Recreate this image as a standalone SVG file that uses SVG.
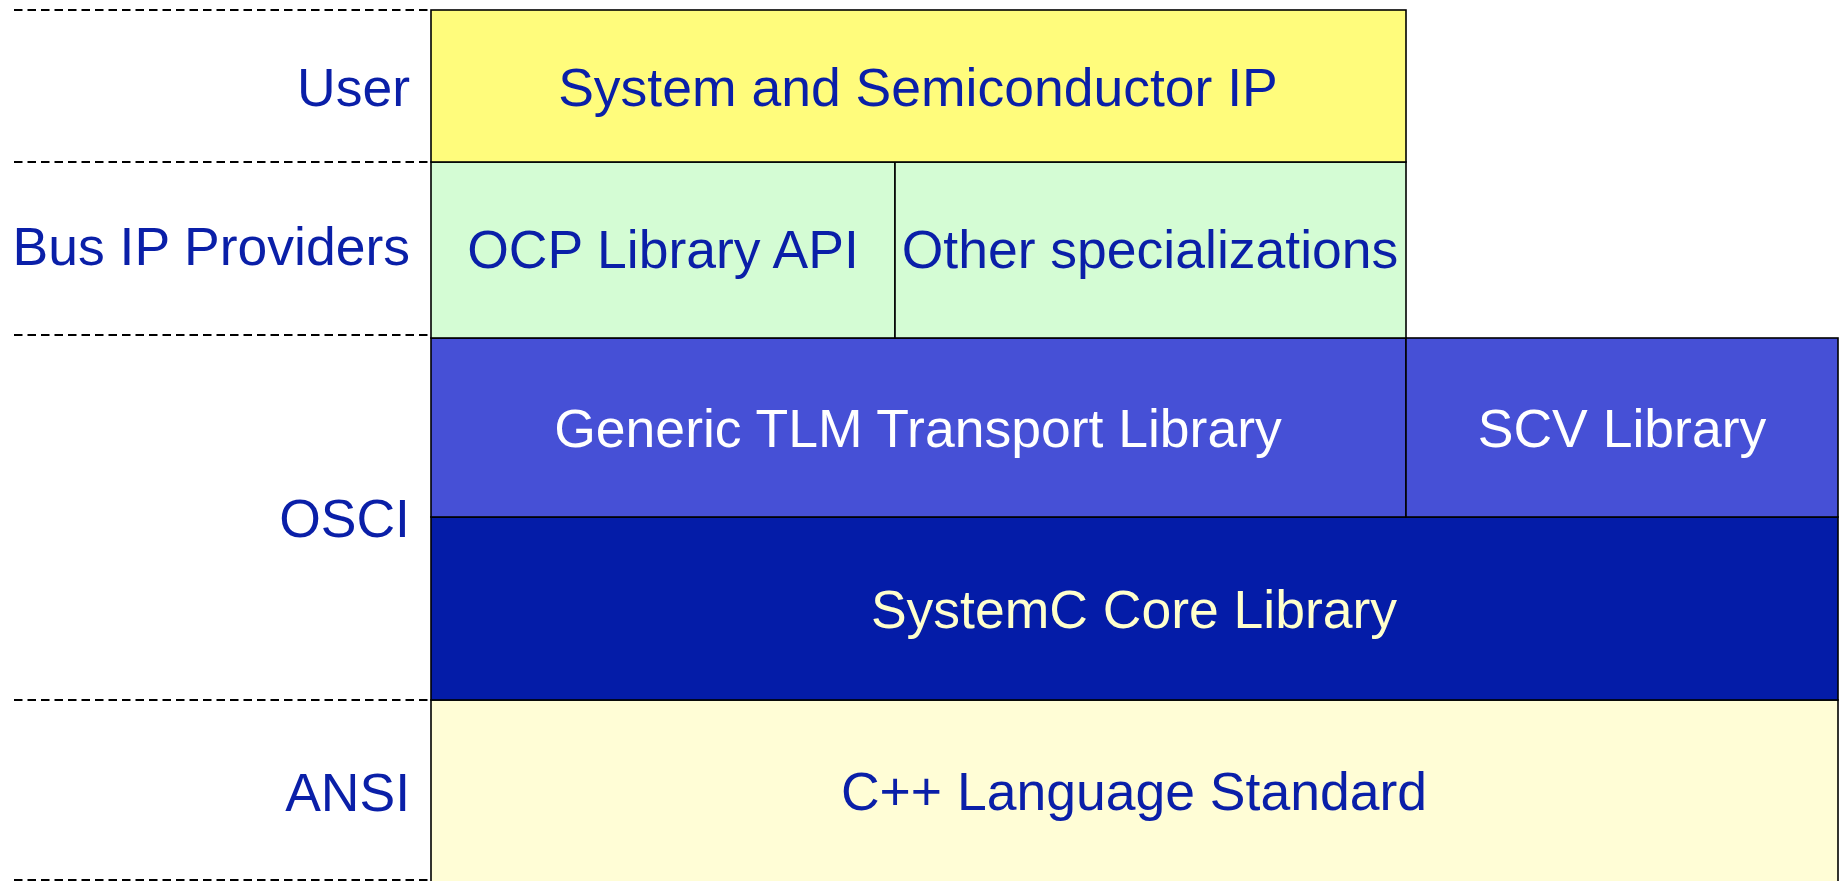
<svg xmlns="http://www.w3.org/2000/svg" width="1841" height="881" viewBox="0 0 1841 881">
<style>
.box{stroke:#000;stroke-width:1.6}
.t{font-family:"Liberation Sans",Arial,sans-serif;font-size:53.5px;text-anchor:middle}
.lbl{font-family:"Liberation Sans",Arial,sans-serif;font-size:53.5px;text-anchor:end;fill:#0A1FA8}
.dk{fill:#0A1FA8}
.wt{fill:#FFFFFF}
.ly{fill:#FFFFCC}
.dash{stroke:#000;stroke-width:2.2;stroke-dasharray:8.5 5;fill:none}
</style>
<rect width="1841" height="881" fill="#FFFFFF"/>
<g id="separators">
<line class="dash" x1="14" y1="10" x2="431" y2="10"/>
<line class="dash" x1="14" y1="162" x2="431" y2="162"/>
<line class="dash" x1="14" y1="335" x2="431" y2="335"/>
<line class="dash" x1="14" y1="700" x2="431" y2="700"/>
<line class="dash" x1="14" y1="880" x2="431" y2="880"/>
</g>
<g id="label-user"><text class="lbl" x="410" y="106">User</text></g>
<g id="label-bus"><text class="lbl" x="410" y="265">Bus IP Providers</text></g>
<g id="label-osci"><text class="lbl" x="410" y="537">OSCI</text></g>
<g id="label-ansi"><text class="lbl" x="410" y="811">ANSI</text></g>
<g id="node-cpp">
<rect class="box" x="431" y="700" width="1407" height="190" fill="#FFFDD6"/>
<text class="t dk" x="1134" y="810">C++ Language Standard</text>
</g>
<g id="node-core">
<rect class="box" x="431" y="517" width="1407" height="183" fill="#041CA8"/>
<text class="t ly" x="1134" y="628">SystemC Core Library</text>
</g>
<g id="node-tlm">
<rect class="box" x="431" y="338" width="975" height="179" fill="#4650D6"/>
<text class="t wt" x="918" y="447">Generic TLM Transport Library</text>
</g>
<g id="node-scv">
<rect class="box" x="1406" y="338" width="432" height="179" fill="#4650D6"/>
<text class="t wt" x="1622" y="447">SCV Library</text>
</g>
<g id="node-ocp">
<rect class="box" x="431" y="162" width="464" height="176" fill="#D4FCD4"/>
<text class="t dk" x="663" y="268">OCP Library API</text>
</g>
<g id="node-other">
<rect class="box" x="895" y="162" width="511" height="176" fill="#D4FCD4"/>
<text class="t dk" x="1150" y="268">Other specializations</text>
</g>
<g id="node-ip">
<rect class="box" x="431" y="10" width="975" height="152" fill="#FFFC7C"/>
<text class="t dk" x="918" y="106">System and Semiconductor IP</text>
</g>
</svg>
